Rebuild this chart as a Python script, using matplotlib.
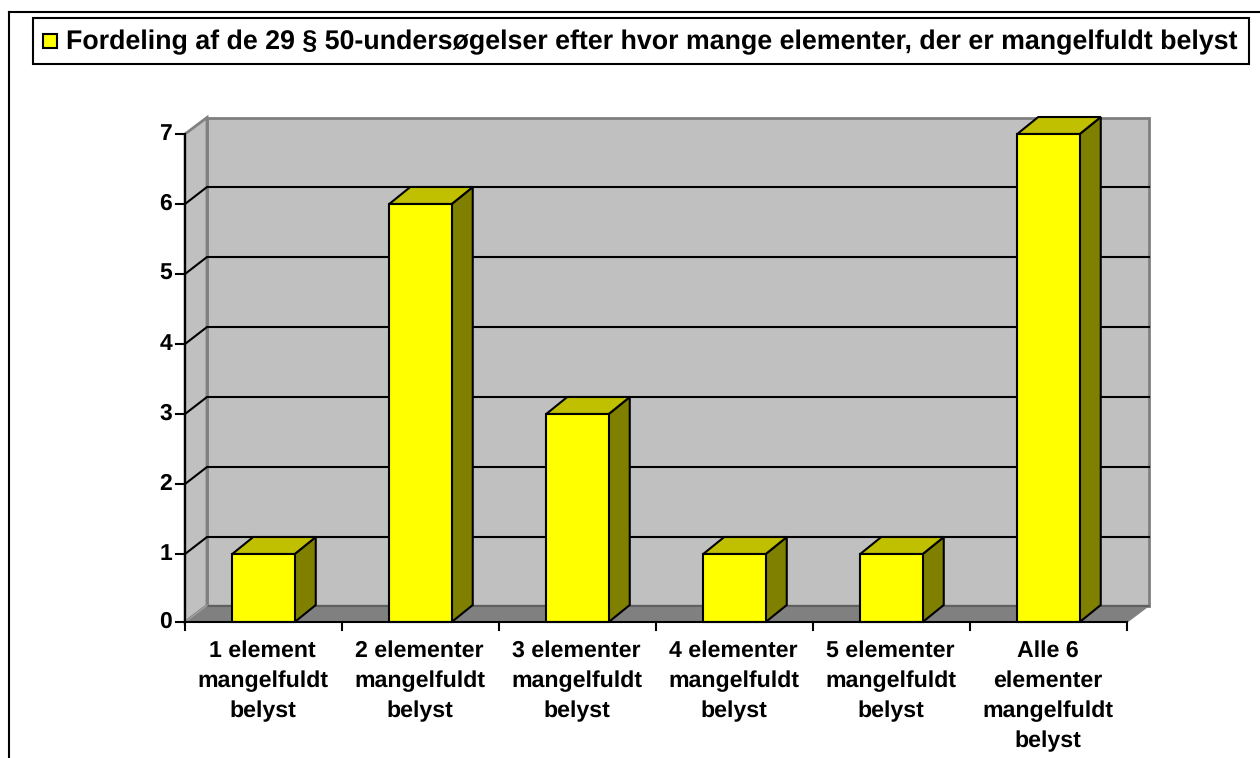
import matplotlib
matplotlib.use("Agg")
import matplotlib.pyplot as plt
from matplotlib.patches import Polygon, Rectangle
from matplotlib.lines import Line2D

categories = ["1 element\nmangelfuldt\nbelyst", "2 elementer\nmangelfuldt\nbelyst",
              "3 elementer\nmangelfuldt\nbelyst", "4 elementer\nmangelfuldt\nbelyst",
              "5 elementer\nmangelfuldt\nbelyst", "Alle 6\nelementer\nmangelfuldt\nbelyst"]
values = [1, 6, 3, 1, 1, 7]
y_ticks = [0, 1, 2, 3, 4, 5, 6, 7]
title = "Fordeling af de 29 § 50-undersøgelser efter hvor mange elementer, der er mangelfuldt belyst"

W, H = 1260, 758
plt.rcParams["font.family"] = ["Liberation Sans", "DejaVu Sans"]
plt.rcParams["font.weight"] = "bold"
plt.rcParams["text.hinting"] = "no_hinting"
plt.rcParams["text.hinting_factor"] = 8
fig = plt.figure(figsize=(W / 100, H / 100), dpi=100, facecolor="white")

L, R, T, B = 185, 1127, 134, 624
ax = fig.add_axes([L / W, 1 - B / H, (R - L) / W, (B - T) / H])
ax.set_xlim(0, len(values))
ax.set_ylim(0, 7)
ax.axis("off")

sx = (R - L) / len(values)
sy = (B - T) / 7
DX, DY = 22 / sx, 16.5 / sy    # wall depth in data units
BX, BY = 21 / sx, 17 / sy      # bar depth in data units
bar_w = 62.5 / sx
BASE = 2 / sy                  # the drawn floor sits 2 px above the regular tick step
LW = 1.5
GREY = "#808080"
WALL = "#c0c0c0"


def poly(pts, fc, ec, lw=LW, z=1):
    ax.add_patch(Polygon(pts, closed=True, facecolor=fc, edgecolor=ec, linewidth=lw,
                         zorder=z, clip_on=False, joinstyle="miter"))


n = len(values)
# walls and floor
poly([(DX, BASE + DY), (n + DX, BASE + DY), (n + DX, 7 + DY), (DX, 7 + DY)], WALL, GREY, 2, 1)
poly([(0, BASE), (DX, BASE + DY), (DX, 7 + DY), (0, 7)], WALL, GREY, 2, 1)
poly([(0, BASE), (n, BASE), (n + DX, BASE + DY), (DX, BASE + DY)], GREY, GREY, 1, 1)
ax.plot([DX, n + DX], [BASE + DY, BASE + DY], color="#606060", lw=1.5, zorder=1.5, clip_on=False)
ax.plot([0, DX], [BASE, BASE + DY], color="#a0a0a0", lw=1, zorder=1.5, clip_on=False)

# gridlines
for v in y_ticks[1:]:
    if v < 7:
        ax.plot([0, DX, n + DX], [v, v + BY, v + BY], color="black", lw=1.5, zorder=2,
                clip_on=False, solid_joinstyle="miter")

# bars
for i, v in enumerate(values):
    x0 = i + 0.5 - bar_w / 2
    x1 = x0 + bar_w
    poly([(x1, BASE), (x1 + BX, BASE + BY), (x1 + BX, v + BY), (x1, v)], "#808000", "black", LW, 3)
    poly([(x0, v), (x1, v), (x1 + BX, v + BY), (x0 + BX, v + BY)], "#c0c000", "black", LW, 3)
    poly([(x0, BASE), (x1, BASE), (x1, v), (x0, v)], "#ffff00", "black", LW, 4)

# axes lines and ticks
ax.plot([0, 0], [BASE, 7], color="black", lw=1.5, zorder=5, clip_on=False)
ax.plot([0, n], [BASE, BASE], color="black", lw=1.5, zorder=5, clip_on=False)
for v in y_ticks:
    yy = max(v, BASE)
    ax.plot([-9 / sx, 0], [yy, yy], color="black", lw=1.5, zorder=5, clip_on=False)
    ax.annotate(str(v), (0, yy), xytext=(-13 * 0.72, 0), textcoords="offset points",
                ha="right", va="center", fontsize=16.5, fontweight="bold")
for k in range(n + 1):
    ax.plot([k, k], [BASE, BASE - 8 / sy], color="black", lw=1.5, zorder=5, clip_on=False)
for k, lab in enumerate(categories):
    for j, line in enumerate(lab.split("\n")):
        ax.annotate(line, (k + 0.5, BASE), xytext=(-0.7, -(29 + 30 * j) * 0.72),
                    textcoords="offset points", ha="center", va="center",
                    fontsize=16.7, fontweight="bold")


def fr(x, y, w, h, **kw):
    fig.add_artist(Rectangle((x / W, 1 - (y + h) / H), w / W, h / H,
                             transform=fig.transFigure, **kw))


# chart frame (runs off the right and bottom of the image)
fig.add_artist(Line2D([9 / W, 9 / W], [0, 1 - 12 / H], color="black", lw=1.5))
fig.add_artist(Line2D([9 / W, 1], [1 - 12 / H, 1 - 12 / H], color="black", lw=1.5))

# legend
fr(33, 18, 1216, 46, facecolor="white", edgecolor="black", linewidth=1.5, zorder=6)
fr(43, 34, 14, 14, facecolor="#ffff00", edgecolor="black", linewidth=1.5, zorder=7)
fig.text(66 / W, 1 - 42 / H, title, ha="left", va="center", fontsize=19.3,
         fontweight="bold", zorder=7)

fig.savefig("out.png", dpi=100, facecolor="white")
